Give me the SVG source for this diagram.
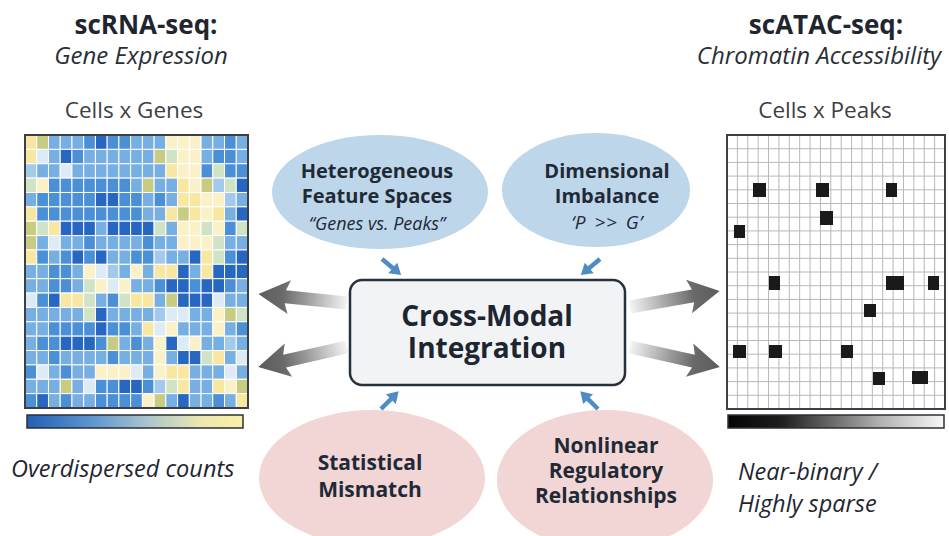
<svg xmlns="http://www.w3.org/2000/svg" width="949" height="536" viewBox="0 0 949 536">
<style>
text{font-family:"Open Sans","Liberation Sans",sans-serif;fill:#1f2630}
.t{font-weight:700;font-size:26px;text-anchor:middle}
.st{font-style:italic;font-size:24px;text-anchor:middle;fill:#2a2f36}
.lab{font-size:22.5px;text-anchor:middle;fill:#3c3f44}
.note{font-style:italic;font-size:23.5px;fill:#1f2630}
.eb{font-weight:700;font-size:20px;text-anchor:middle;fill:#1f2a36}
.ei{font-style:italic;font-size:18px;text-anchor:middle;fill:#1f2a36}
.pb{font-weight:700;font-size:21px;text-anchor:middle;fill:#1f2a36}
.cb{font-weight:700;font-size:28px;text-anchor:middle;fill:#1c2530}
.hm rect{width:11.74px;height:14.37px;stroke:#fff;stroke-width:1}
.D{fill:#2767c2}.M{fill:#4b8fd7}.L{fill:#77afe2}.P{fill:#a3c9ec}.W{fill:#dcebf6}
.Y{fill:#f8e7a0}.y{fill:#fbf1c8}.G{fill:#c7cc80}.g{fill:#d0e3c4}
.blk{fill:#1a1a1a}
.bell{fill:#bdd6ea}
.pell{fill:#f2d5d5}
.ba{fill:#4f8cc4}
.ga{fill:url(#gg)}
</style>
<defs>
<linearGradient id="gg" gradientUnits="userSpaceOnUse" x1="0" y1="0" x2="90" y2="0">
<stop offset="0" stop-color="#f4f4f4"/>
<stop offset="0.45" stop-color="#9c9c9c"/>
<stop offset="0.72" stop-color="#6a6a6a"/>
<stop offset="1" stop-color="#5c5c5c"/>
</linearGradient>
<linearGradient id="cbL" x1="0" y1="0" x2="1" y2="0">
<stop offset="0" stop-color="#2161b4"/>
<stop offset="0.3" stop-color="#5d95cf"/>
<stop offset="0.55" stop-color="#a9c3cf"/>
<stop offset="0.8" stop-color="#ece7b0"/>
<stop offset="1" stop-color="#fcefa6"/>
</linearGradient>
<linearGradient id="cbR" x1="0" y1="0" x2="1" y2="0">
<stop offset="0" stop-color="#050505"/>
<stop offset="0.25" stop-color="#1e1e1e"/>
<stop offset="0.7" stop-color="#b0b0b0"/>
<stop offset="1" stop-color="#f8f8f8"/>
</linearGradient>
</defs>
<rect width="949" height="536" fill="#fff"/>

<g id="title-rna">
<text class="t" x="146" y="34">scRNA-seq:</text>
<text class="st" x="141" y="64">Gene Expression</text>
<text class="lab" x="134" y="118">Cells x Genes</text>
</g>
<g id="title-atac">
<text class="t" x="826" y="34">scATAC-seq:</text>
<text class="st" x="819" y="64">Chromatin Accessibility</text>
<text class="lab" x="825" y="118">Cells x Peaks</text>
</g>

<g id="heatmap-rna">
<g class="hm">
<g transform="translate(25,135)"><rect x="0" class="Y"/><rect x="11.74" class="G"/><rect x="23.47" class="L"/><rect x="35.21" class="L"/><rect x="46.95" class="L"/><rect x="58.68" class="M"/><rect x="70.42" class="D"/><rect x="82.16" class="M"/><rect x="93.89" class="M"/><rect x="105.63" class="L"/><rect x="117.37" class="L"/><rect x="129.11" class="L"/><rect x="140.84" class="y"/><rect x="152.58" class="y"/><rect x="164.32" class="y"/><rect x="176.05" class="L"/><rect x="187.79" class="L"/><rect x="199.53" class="M"/><rect x="211.26" class="L"/></g>
<g transform="translate(25,149.37)"><rect x="0" class="Y"/><rect x="11.74" class="W"/><rect x="23.47" class="L"/><rect x="35.21" class="D"/><rect x="46.95" class="M"/><rect x="58.68" class="L"/><rect x="70.42" class="L"/><rect x="82.16" class="L"/><rect x="93.89" class="L"/><rect x="105.63" class="L"/><rect x="117.37" class="L"/><rect x="129.11" class="G"/><rect x="140.84" class="g"/><rect x="152.58" class="y"/><rect x="164.32" class="y"/><rect x="176.05" class="L"/><rect x="187.79" class="M"/><rect x="199.53" class="M"/><rect x="211.26" class="L"/></g>
<g transform="translate(25,163.74)"><rect x="0" class="P"/><rect x="11.74" class="L"/><rect x="23.47" class="L"/><rect x="35.21" class="W"/><rect x="46.95" class="L"/><rect x="58.68" class="L"/><rect x="70.42" class="L"/><rect x="82.16" class="L"/><rect x="93.89" class="L"/><rect x="105.63" class="L"/><rect x="117.37" class="L"/><rect x="129.11" class="L"/><rect x="140.84" class="Y"/><rect x="152.58" class="y"/><rect x="164.32" class="y"/><rect x="176.05" class="M"/><rect x="187.79" class="g"/><rect x="199.53" class="M"/><rect x="211.26" class="M"/></g>
<g transform="translate(25,178.1)"><rect x="0" class="g"/><rect x="11.74" class="y"/><rect x="23.47" class="M"/><rect x="35.21" class="M"/><rect x="46.95" class="M"/><rect x="58.68" class="M"/><rect x="70.42" class="M"/><rect x="82.16" class="M"/><rect x="93.89" class="M"/><rect x="105.63" class="L"/><rect x="117.37" class="G"/><rect x="129.11" class="L"/><rect x="140.84" class="L"/><rect x="152.58" class="Y"/><rect x="164.32" class="y"/><rect x="176.05" class="G"/><rect x="187.79" class="P"/><rect x="199.53" class="g"/><rect x="211.26" class="D"/></g>
<g transform="translate(25,192.47)"><rect x="0" class="L"/><rect x="11.74" class="M"/><rect x="23.47" class="M"/><rect x="35.21" class="M"/><rect x="46.95" class="M"/><rect x="58.68" class="M"/><rect x="70.42" class="D"/><rect x="82.16" class="D"/><rect x="93.89" class="M"/><rect x="105.63" class="M"/><rect x="117.37" class="L"/><rect x="129.11" class="M"/><rect x="140.84" class="L"/><rect x="152.58" class="Y"/><rect x="164.32" class="Y"/><rect x="176.05" class="y"/><rect x="187.79" class="y"/><rect x="199.53" class="P"/><rect x="211.26" class="L"/></g>
<g transform="translate(25,206.84)"><rect x="0" class="Y"/><rect x="11.74" class="M"/><rect x="23.47" class="M"/><rect x="35.21" class="M"/><rect x="46.95" class="M"/><rect x="58.68" class="M"/><rect x="70.42" class="M"/><rect x="82.16" class="M"/><rect x="93.89" class="M"/><rect x="105.63" class="M"/><rect x="117.37" class="L"/><rect x="129.11" class="L"/><rect x="140.84" class="Y"/><rect x="152.58" class="G"/><rect x="164.32" class="Y"/><rect x="176.05" class="y"/><rect x="187.79" class="Y"/><rect x="199.53" class="L"/><rect x="211.26" class="D"/></g>
<g transform="translate(25,221.21)"><rect x="0" class="G"/><rect x="11.74" class="g"/><rect x="23.47" class="Y"/><rect x="35.21" class="D"/><rect x="46.95" class="D"/><rect x="58.68" class="D"/><rect x="70.42" class="L"/><rect x="82.16" class="D"/><rect x="93.89" class="D"/><rect x="105.63" class="D"/><rect x="117.37" class="D"/><rect x="129.11" class="g"/><rect x="140.84" class="L"/><rect x="152.58" class="y"/><rect x="164.32" class="y"/><rect x="176.05" class="g"/><rect x="187.79" class="y"/><rect x="199.53" class="M"/><rect x="211.26" class="g"/></g>
<g transform="translate(25,235.58)"><rect x="0" class="G"/><rect x="11.74" class="L"/><rect x="23.47" class="W"/><rect x="35.21" class="L"/><rect x="46.95" class="L"/><rect x="58.68" class="M"/><rect x="70.42" class="L"/><rect x="82.16" class="L"/><rect x="93.89" class="L"/><rect x="105.63" class="L"/><rect x="117.37" class="M"/><rect x="129.11" class="L"/><rect x="140.84" class="L"/><rect x="152.58" class="y"/><rect x="164.32" class="y"/><rect x="176.05" class="y"/><rect x="187.79" class="g"/><rect x="199.53" class="L"/><rect x="211.26" class="L"/></g>
<g transform="translate(25,249.95)"><rect x="0" class="Y"/><rect x="11.74" class="M"/><rect x="23.47" class="L"/><rect x="35.21" class="M"/><rect x="46.95" class="D"/><rect x="58.68" class="M"/><rect x="70.42" class="D"/><rect x="82.16" class="L"/><rect x="93.89" class="L"/><rect x="105.63" class="M"/><rect x="117.37" class="M"/><rect x="129.11" class="P"/><rect x="140.84" class="L"/><rect x="152.58" class="L"/><rect x="164.32" class="D"/><rect x="176.05" class="Y"/><rect x="187.79" class="g"/><rect x="199.53" class="M"/><rect x="211.26" class="D"/></g>
<g transform="translate(25,264.32)"><rect x="0" class="L"/><rect x="11.74" class="L"/><rect x="23.47" class="M"/><rect x="35.21" class="M"/><rect x="46.95" class="L"/><rect x="58.68" class="y"/><rect x="70.42" class="W"/><rect x="82.16" class="P"/><rect x="93.89" class="L"/><rect x="105.63" class="y"/><rect x="117.37" class="L"/><rect x="129.11" class="Y"/><rect x="140.84" class="Y"/><rect x="152.58" class="D"/><rect x="164.32" class="L"/><rect x="176.05" class="Y"/><rect x="187.79" class="D"/><rect x="199.53" class="D"/><rect x="211.26" class="D"/></g>
<g transform="translate(25,278.68)"><rect x="0" class="L"/><rect x="11.74" class="L"/><rect x="23.47" class="M"/><rect x="35.21" class="M"/><rect x="46.95" class="L"/><rect x="58.68" class="g"/><rect x="70.42" class="y"/><rect x="82.16" class="W"/><rect x="93.89" class="y"/><rect x="105.63" class="L"/><rect x="117.37" class="L"/><rect x="129.11" class="M"/><rect x="140.84" class="D"/><rect x="152.58" class="D"/><rect x="164.32" class="M"/><rect x="176.05" class="D"/><rect x="187.79" class="D"/><rect x="199.53" class="M"/><rect x="211.26" class="L"/></g>
<g transform="translate(25,293.05)"><rect x="0" class="W"/><rect x="11.74" class="M"/><rect x="23.47" class="D"/><rect x="35.21" class="Y"/><rect x="46.95" class="Y"/><rect x="58.68" class="g"/><rect x="70.42" class="L"/><rect x="82.16" class="M"/><rect x="93.89" class="g"/><rect x="105.63" class="Y"/><rect x="117.37" class="Y"/><rect x="129.11" class="L"/><rect x="140.84" class="G"/><rect x="152.58" class="D"/><rect x="164.32" class="D"/><rect x="176.05" class="D"/><rect x="187.79" class="W"/><rect x="199.53" class="L"/><rect x="211.26" class="L"/></g>
<g transform="translate(25,307.42)"><rect x="0" class="L"/><rect x="11.74" class="L"/><rect x="23.47" class="L"/><rect x="35.21" class="L"/><rect x="46.95" class="L"/><rect x="58.68" class="g"/><rect x="70.42" class="D"/><rect x="82.16" class="L"/><rect x="93.89" class="L"/><rect x="105.63" class="L"/><rect x="117.37" class="L"/><rect x="129.11" class="P"/><rect x="140.84" class="W"/><rect x="152.58" class="W"/><rect x="164.32" class="L"/><rect x="176.05" class="L"/><rect x="187.79" class="y"/><rect x="199.53" class="G"/><rect x="211.26" class="g"/></g>
<g transform="translate(25,321.79)"><rect x="0" class="L"/><rect x="11.74" class="L"/><rect x="23.47" class="M"/><rect x="35.21" class="M"/><rect x="46.95" class="M"/><rect x="58.68" class="M"/><rect x="70.42" class="D"/><rect x="82.16" class="M"/><rect x="93.89" class="M"/><rect x="105.63" class="L"/><rect x="117.37" class="Y"/><rect x="129.11" class="W"/><rect x="140.84" class="y"/><rect x="152.58" class="L"/><rect x="164.32" class="L"/><rect x="176.05" class="L"/><rect x="187.79" class="y"/><rect x="199.53" class="L"/><rect x="211.26" class="M"/></g>
<g transform="translate(25,336.16)"><rect x="0" class="L"/><rect x="11.74" class="M"/><rect x="23.47" class="M"/><rect x="35.21" class="D"/><rect x="46.95" class="D"/><rect x="58.68" class="D"/><rect x="70.42" class="M"/><rect x="82.16" class="G"/><rect x="93.89" class="L"/><rect x="105.63" class="M"/><rect x="117.37" class="L"/><rect x="129.11" class="y"/><rect x="140.84" class="D"/><rect x="152.58" class="W"/><rect x="164.32" class="y"/><rect x="176.05" class="L"/><rect x="187.79" class="L"/><rect x="199.53" class="P"/><rect x="211.26" class="L"/></g>
<g transform="translate(25,350.53)"><rect x="0" class="L"/><rect x="11.74" class="L"/><rect x="23.47" class="M"/><rect x="35.21" class="L"/><rect x="46.95" class="L"/><rect x="58.68" class="L"/><rect x="70.42" class="L"/><rect x="82.16" class="M"/><rect x="93.89" class="L"/><rect x="105.63" class="L"/><rect x="117.37" class="L"/><rect x="129.11" class="y"/><rect x="140.84" class="L"/><rect x="152.58" class="D"/><rect x="164.32" class="D"/><rect x="176.05" class="g"/><rect x="187.79" class="Y"/><rect x="199.53" class="L"/><rect x="211.26" class="W"/></g>
<g transform="translate(25,364.89)"><rect x="0" class="M"/><rect x="11.74" class="W"/><rect x="23.47" class="L"/><rect x="35.21" class="M"/><rect x="46.95" class="L"/><rect x="58.68" class="L"/><rect x="70.42" class="y"/><rect x="82.16" class="y"/><rect x="93.89" class="y"/><rect x="105.63" class="W"/><rect x="117.37" class="L"/><rect x="129.11" class="y"/><rect x="140.84" class="Y"/><rect x="152.58" class="Y"/><rect x="164.32" class="L"/><rect x="176.05" class="L"/><rect x="187.79" class="L"/><rect x="199.53" class="W"/><rect x="211.26" class="L"/></g>
<g transform="translate(25,379.26)"><rect x="0" class="L"/><rect x="11.74" class="L"/><rect x="23.47" class="L"/><rect x="35.21" class="G"/><rect x="46.95" class="L"/><rect x="58.68" class="W"/><rect x="70.42" class="M"/><rect x="82.16" class="M"/><rect x="93.89" class="D"/><rect x="105.63" class="D"/><rect x="117.37" class="M"/><rect x="129.11" class="P"/><rect x="140.84" class="g"/><rect x="152.58" class="Y"/><rect x="164.32" class="L"/><rect x="176.05" class="L"/><rect x="187.79" class="Y"/><rect x="199.53" class="y"/><rect x="211.26" class="G"/></g>
<g transform="translate(25,393.63)"><rect x="0" class="M"/><rect x="11.74" class="D"/><rect x="23.47" class="L"/><rect x="35.21" class="M"/><rect x="46.95" class="L"/><rect x="58.68" class="L"/><rect x="70.42" class="M"/><rect x="82.16" class="M"/><rect x="93.89" class="M"/><rect x="105.63" class="M"/><rect x="117.37" class="y"/><rect x="129.11" class="G"/><rect x="140.84" class="L"/><rect x="152.58" class="D"/><rect x="164.32" class="L"/><rect x="176.05" class="L"/><rect x="187.79" class="M"/><rect x="199.53" class="L"/><rect x="211.26" class="Y"/></g>
</g>
<rect x="25" y="135" width="223" height="273" fill="none" stroke="#3c3f44" stroke-width="2"/>
<rect x="27" y="415" width="216" height="13" fill="url(#cbL)" stroke="#2b2f35" stroke-width="1.5"/>
<text class="note" x="11" y="477">Overdispersed counts</text>
</g>

<g id="grid-atac">
<rect x="727" y="135" width="218" height="274" fill="#fff"/>
<path fill="none" stroke="#b8b8b8" stroke-width="1" d="M737.38 135V409M747.76 135V409M758.14 135V409M768.52 135V409M778.9 135V409M789.29 135V409M799.67 135V409M810.05 135V409M820.43 135V409M830.81 135V409M841.19 135V409M851.57 135V409M861.95 135V409M872.33 135V409M882.71 135V409M893.1 135V409M903.48 135V409M913.86 135V409M924.24 135V409M934.62 135V409M727 148.7H945M727 162.4H945M727 176.1H945M727 189.8H945M727 203.5H945M727 217.2H945M727 230.9H945M727 244.6H945M727 258.3H945M727 272H945M727 285.7H945M727 299.4H945M727 313.1H945M727 326.8H945M727 340.5H945M727 354.2H945M727 367.9H945M727 381.6H945M727 395.3H945"/>
<rect class="blk" x="753" y="183" width="13" height="14"/>
<rect class="blk" x="816" y="183" width="13" height="14"/>
<rect class="blk" x="886" y="183" width="11" height="14"/>
<rect class="blk" x="820" y="211" width="13" height="14"/>
<rect class="blk" x="734" y="225" width="11" height="13"/>
<rect class="blk" x="769" y="276" width="11" height="14"/>
<rect class="blk" x="886" y="276" width="18" height="14"/>
<rect class="blk" x="928" y="276" width="11" height="14"/>
<rect class="blk" x="864" y="304" width="12" height="13"/>
<rect class="blk" x="733" y="345" width="13" height="13"/>
<rect class="blk" x="769" y="345" width="13" height="13"/>
<rect class="blk" x="841" y="345" width="12" height="13"/>
<rect class="blk" x="873" y="372" width="12" height="13"/>
<rect class="blk" x="912" y="371" width="16" height="13"/>
<rect x="727" y="135" width="218" height="274" fill="none" stroke="#3c3f44" stroke-width="2"/>
<rect x="728" y="415" width="216" height="13" fill="url(#cbR)" stroke="#2b2f35" stroke-width="1.5"/>
<text class="note" x="738" y="480">Near-binary /</text>
<text class="note" x="738" y="512">Highly sparse</text>
</g>

<g id="node-heterogeneous">
<ellipse class="bell" cx="380" cy="192" rx="108" ry="57"/>
<text class="eb" x="377" y="178">Heterogeneous</text>
<text class="eb" x="377" y="203">Feature Spaces</text>
<text class="ei" x="377" y="230">&#8220;Genes vs. Peaks&#8221;</text>
</g>
<g id="node-imbalance">
<ellipse class="bell" cx="596" cy="190" rx="94" ry="57"/>
<text class="eb" x="607" y="178">Dimensional</text>
<text class="eb" x="607" y="203">Imbalance</text>
<text class="ei" x="607" y="229" style="font-size:19px;word-spacing:3px;letter-spacing:0.5px">&#8216;P &gt;&gt; G&#8217;</text>
</g>
<g id="node-statistical">
<ellipse class="pell" cx="372" cy="478" rx="113" ry="68"/>
<text class="pb" x="370" y="470">Statistical</text>
<text class="pb" x="370" y="497">Mismatch</text>
</g>
<g id="node-nonlinear">
<ellipse class="pell" cx="605" cy="480" rx="108" ry="70"/>
<text class="pb" x="606" y="453">Nonlinear</text>
<text class="pb" x="606" y="478">Regulatory</text>
<text class="pb" x="606" y="503">Relationships</text>
</g>
<g id="node-integration">
<rect x="350" y="280" width="275" height="105" rx="12" fill="#f1f3f5" stroke="#27313c" stroke-width="2.5"/>
<text class="cb" x="487" y="326">Cross-Modal</text>
<text class="cb" x="487" y="358">Integration</text>
</g>

<g id="connectors">
<polygon class="ga" transform="translate(347,303) rotate(185.8)" points="0,-6.5 62,-6.5 58,-17 89,0 58,17 62,6.5 0,6.5"/>
<polygon class="ga" transform="translate(347,347) rotate(167.3)" points="0,-6.5 64,-6.5 60,-17 91,0 60,17 64,6.5 0,6.5"/>
<polygon class="ga" transform="translate(630,307) rotate(-10.1)" points="0,-6.5 64,-6.5 60,-17 91,0 60,17 64,6.5 0,6.5"/>
<polygon class="ga" transform="translate(630,347) rotate(12.5)" points="0,-6.5 65,-6.5 61,-17 92,0 61,17 65,6.5 0,6.5"/>
<polygon class="ba" transform="translate(382,259) rotate(40)" points="0,-2.2 14,-2.2 14,-7 25,0 14,7 14,2.2 0,2.2"/>
<polygon class="ba" transform="translate(600,259) rotate(140)" points="0,-2.2 14,-2.2 14,-7 25,0 14,7 14,2.2 0,2.2"/>
<polygon class="ba" transform="translate(381,409) rotate(-45)" points="0,-2.2 14,-2.2 14,-7 25,0 14,7 14,2.2 0,2.2"/>
<polygon class="ba" transform="translate(598,409) rotate(-135)" points="0,-2.2 14,-2.2 14,-7 25,0 14,7 14,2.2 0,2.2"/>
</g>
</svg>
